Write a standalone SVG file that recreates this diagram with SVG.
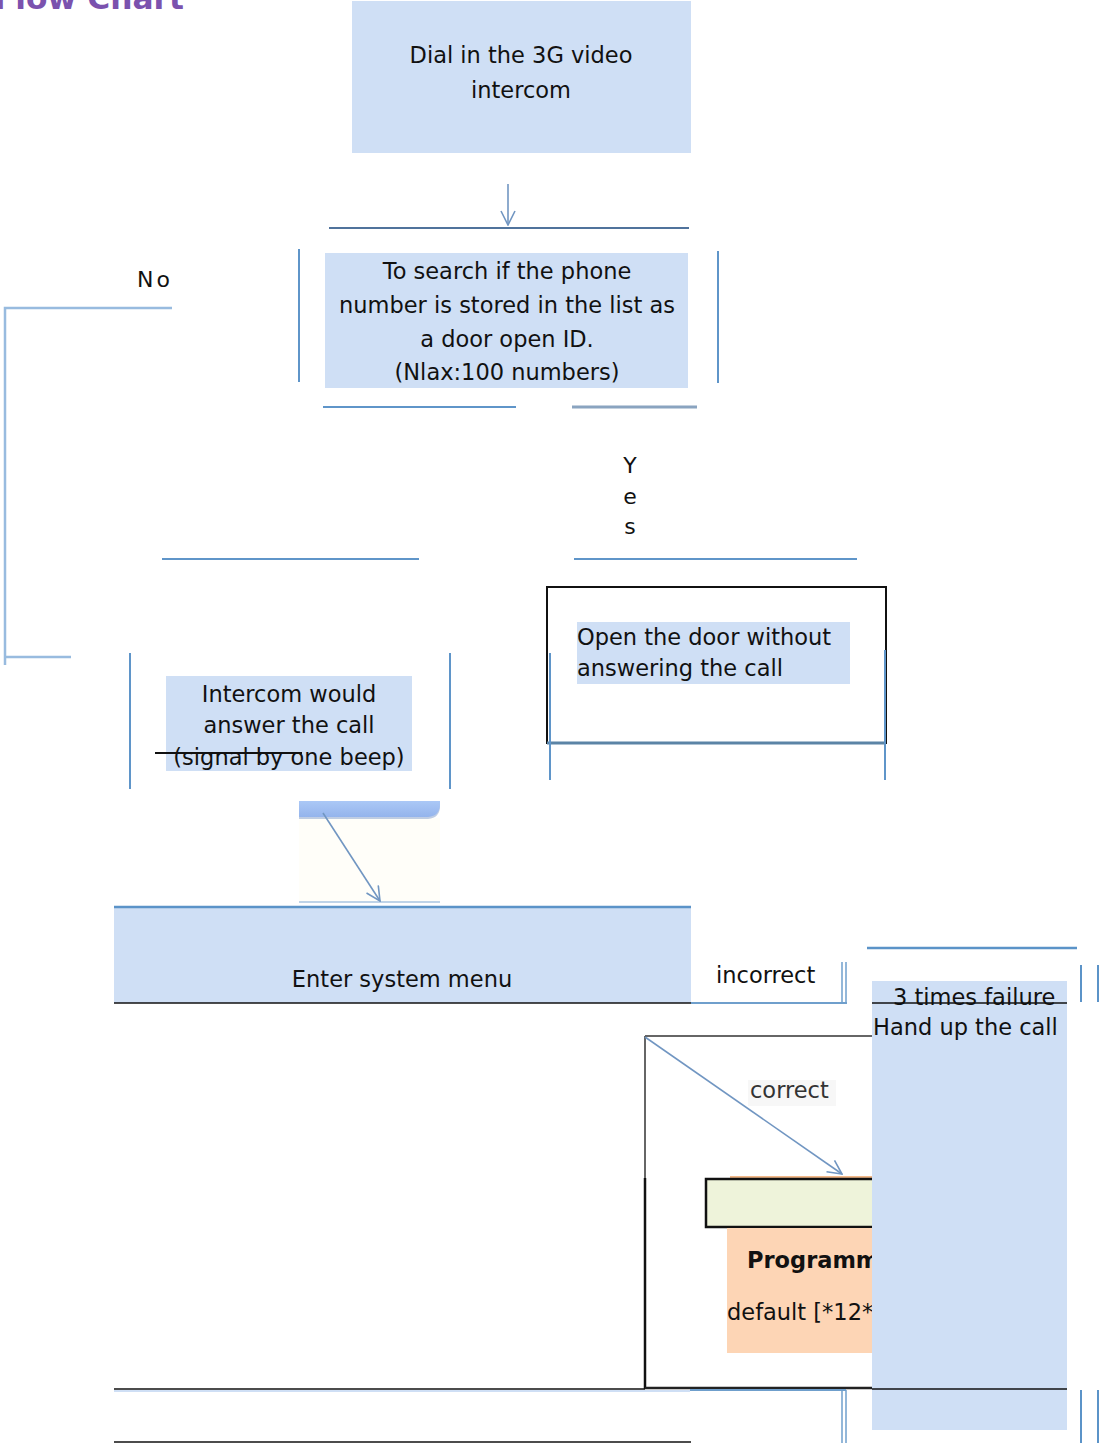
<svg xmlns="http://www.w3.org/2000/svg" width="1099" height="1443" viewBox="0 0 1099 1443">
<defs>
<style>
text{font-family:"DejaVu Sans","Verdana","Liberation Sans",sans-serif;font-size:22.5px;fill:#111}
.c{text-anchor:middle}
.fill{fill:#cfdff5}
.bl{stroke:#5f95c9;stroke-width:2;fill:none}
.lb{stroke:#98bbdf;stroke-width:2.5;fill:none}
.blk{stroke:#111;stroke-width:1.5;fill:none}
.arr{stroke:#7196c2;stroke-width:1.6;fill:none}
</style>
<marker id="ah" viewBox="0 0 16 16" refX="15" refY="8" markerWidth="16" markerHeight="16" markerUnits="userSpaceOnUse" orient="auto">
<path d="M1,1 L15,8 L1,15" fill="none" stroke="#7196c2" stroke-width="1.6"/>
</marker>
<linearGradient id="gb" x1="0" y1="0" x2="0" y2="1">
<stop offset="0" stop-color="#abc8f6"/>
<stop offset="1" stop-color="#94b4ec"/>
</linearGradient>
</defs>
<rect width="1099" height="1443" fill="#fff"/>

<g id="title">
<text x="-6" y="9" font-weight="bold" style="font-size:30px;fill:#7b52ae" textLength="190" lengthAdjust="spacingAndGlyphs">Flow Chart</text>
</g>

<g id="node-dial">
<rect x="352" y="1" width="339" height="152" class="fill"/>
<text x="521" y="63" class="c">Dial in the 3G video</text>
<text x="521" y="98" class="c">intercom</text>
</g>

<g id="node-search">
<rect x="325" y="253" width="363" height="135" class="fill"/>
<text x="507" y="279" class="c">To search if the phone</text>
<text x="507" y="313" class="c">number is stored in the list as</text>
<text x="507" y="347" class="c">a door open ID.</text>
<text x="507" y="380" class="c">(Nlax:100 numbers)</text>
<line x1="299" y1="249" x2="299" y2="382" class="bl"/>
<line x1="718" y1="251" x2="718" y2="383" class="bl"/>
</g>

<g id="node-open">
<rect x="547" y="587" width="339" height="156" fill="#fff" stroke="#111" stroke-width="2"/>
<line x1="547" y1="743" x2="886" y2="743" stroke="#5b84a6" stroke-width="3"/>
<rect x="577" y="622" width="273" height="62" class="fill"/>
<text x="577" y="645">Open the door without</text>
<text x="577" y="676">answering the call</text>
<line x1="550" y1="653" x2="550" y2="780" class="bl"/>
<line x1="885" y1="650" x2="885" y2="780" class="bl"/>
</g>

<g id="node-answer">
<line x1="130" y1="653" x2="130" y2="789" class="bl"/>
<line x1="450" y1="653" x2="450" y2="789" class="bl"/>
<rect x="166" y="676" width="246" height="95" class="fill"/>
<text x="289" y="702" class="c">Intercom would</text>
<text x="289" y="733" class="c">answer the call</text>
<text x="289" y="765" class="c">(signal by one beep)</text>
<line x1="155" y1="753" x2="302" y2="753" stroke="#111" stroke-width="2"/>
</g>

<g id="node-shape">
<rect x="299" y="818" width="141" height="84" fill="#fffef9"/>
<path d="M299,803 H440 V806 Q440,818 428,819 H299 Z" fill="#7f9cc9" opacity="0.5"/>
<path d="M299,801 H440 V804 Q440,816 428,817 H299 Z" fill="url(#gb)"/>
<line x1="299" y1="902" x2="440" y2="902" stroke="#a9c4e0" stroke-width="1.5"/>
</g>

<g id="node-menu">
<rect x="114" y="907" width="577" height="96" class="fill"/>
<line x1="114" y1="907" x2="691" y2="907" stroke="#5b93c8" stroke-width="2.5"/>
<line x1="114" y1="1003" x2="691" y2="1003" stroke="#111" stroke-width="1.5"/>
<text x="402" y="987" class="c">Enter system menu</text>
</g>

<g id="node-incorrect">
<text x="716" y="983">incorrect</text>
<line x1="691" y1="1003" x2="847" y2="1003" stroke="#6f9fcc" stroke-width="2"/>
<line x1="842" y1="962" x2="842" y2="1003" stroke="#6f9fcc" stroke-width="1.5"/>
<line x1="846" y1="962" x2="846" y2="1003" stroke="#6f9fcc" stroke-width="1.5"/>
</g>

<g id="node-program">
<line x1="645" y1="1036" x2="872" y2="1036" stroke="#333" stroke-width="1.5"/>
<line x1="645" y1="1036" x2="645" y2="1178" stroke="#333" stroke-width="1.5"/>
<line x1="645" y1="1178" x2="645" y2="1389" stroke="#111" stroke-width="2.5"/>
<line x1="645" y1="1388" x2="872" y2="1388" stroke="#222" stroke-width="2.5"/>
<line x1="730" y1="1177" x2="872" y2="1177" stroke="#f3b98a" stroke-width="2"/>
<rect x="706" y="1179" width="170" height="48" fill="#eef3da" stroke="#111" stroke-width="2.5"/>
<rect x="727" y="1228" width="150" height="125" fill="#fdd5b5"/>
<text x="747" y="1268" font-weight="bold">Programm</text>
<text x="727" y="1320">default [*12*</text>
<rect x="748" y="1080" width="88" height="26" fill="#f7f7f7"/>
<text x="750" y="1098" style="fill:#333">correct</text>
</g>

<g id="node-fail">
<line x1="867" y1="948" x2="1077" y2="948" stroke="#5b93c8" stroke-width="2.5"/>
<rect x="872" y="981" width="195" height="449" class="fill"/>
<text x="893" y="1005">3 times failure</text>
<line x1="872" y1="1003" x2="1067" y2="1003" stroke="#111" stroke-width="1.5"/>
<text x="873" y="1035">Hand up the call</text>
<line x1="872" y1="1389" x2="1067" y2="1389" stroke="#111" stroke-width="1.5"/>
<line x1="1081" y1="965" x2="1081" y2="1002" stroke="#5b93c8" stroke-width="2"/>
<line x1="1098" y1="965" x2="1098" y2="1002" stroke="#5b93c8" stroke-width="2"/>
<line x1="1081" y1="1390" x2="1081" y2="1443" stroke="#5b93c8" stroke-width="2"/>
<line x1="1098" y1="1390" x2="1098" y2="1443" stroke="#5b93c8" stroke-width="2"/>
</g>

<g id="node-bottom">
<line x1="114" y1="1389" x2="645" y2="1389" stroke="#111" stroke-width="1.5"/>
<line x1="114" y1="1391" x2="690" y2="1391" stroke="#cfdff5" stroke-width="2"/>
<line x1="690" y1="1390" x2="846" y2="1390" stroke="#6f9fcc" stroke-width="2"/>
<line x1="842" y1="1390" x2="842" y2="1443" stroke="#6f9fcc" stroke-width="1.5"/>
<line x1="846" y1="1390" x2="846" y2="1443" stroke="#6f9fcc" stroke-width="1.5"/>
<line x1="114" y1="1442" x2="691" y2="1442" stroke="#111" stroke-width="1.5"/>
</g>

<g id="connectors">
<line x1="508" y1="184" x2="508" y2="225" class="arr" marker-end="url(#ah)"/>
<line x1="329" y1="228" x2="689" y2="228" stroke="#50739c" stroke-width="2"/>
<line x1="323" y1="407" x2="516" y2="407" class="bl"/>
<line x1="572" y1="407" x2="697" y2="407" stroke="#8aa4c0" stroke-width="3"/>
<text x="137" y="287" style="font-size:22px;letter-spacing:3px">No</text>
<polyline points="172,308 5,308 5,665" class="lb"/>
<line x1="5" y1="657" x2="71" y2="657" class="lb"/>
<text x="630" y="473" class="c" style="font-size:22px">Y</text>
<text x="630" y="504" class="c" style="font-size:22px">e</text>
<text x="630" y="534" class="c" style="font-size:22px">s</text>
<line x1="162" y1="559" x2="419" y2="559" class="bl"/>
<line x1="574" y1="559" x2="857" y2="559" class="bl"/>
<line x1="323" y1="813" x2="380" y2="901" class="arr" marker-end="url(#ah)"/>
<line x1="645" y1="1037" x2="842" y2="1174" class="arr" marker-end="url(#ah)"/>
</g>
</svg>
